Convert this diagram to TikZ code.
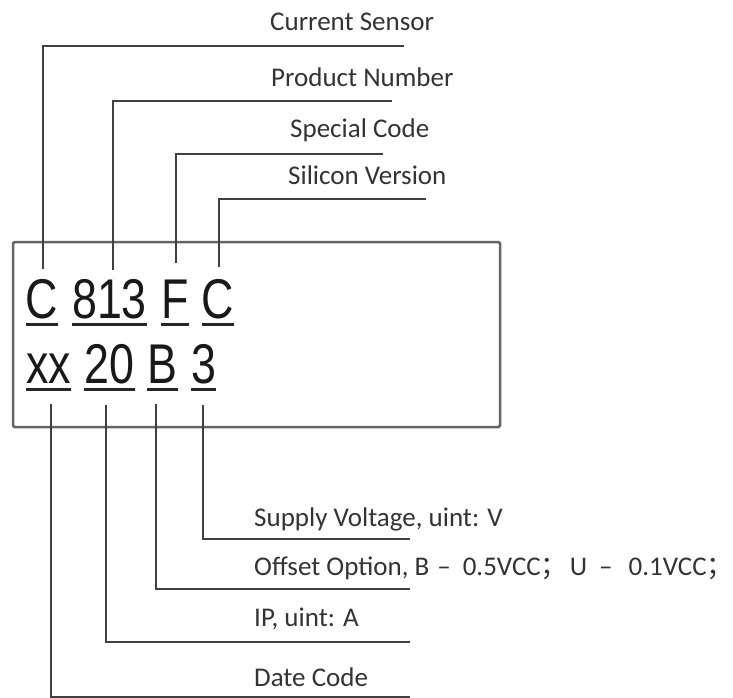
\documentclass[tikz,border=0pt]{standalone}
\usepackage{fontspec}
\setmainfont{Carlito}
\newfontfamily\codefont[FakeStretch=0.8]{Liberation Sans}
\newfontfamily\cjkfont{Noto Sans CJK SC}
\usetikzlibrary{calc}

\tikzset{
  code/.style={anchor=base, inner sep=0pt, text=black!90, font=\codefont\fontsize{56}{60}\selectfont},
  lbl/.style={anchor=base west, inner sep=0pt, text=black!80, font=\fontsize{27}{30}\selectfont},
  lead/.style={draw=black!75, line width=2pt},
  uline/.style={draw=black!85, line width=3.5pt},
  chip/.style={draw=black!60, line width=2.5pt, rounded corners=1.5pt}
}

\begin{document}
\begin{tikzpicture}[x=1pt,y=1pt,yscale=-1]
\useasboundingbox (0,0) rectangle (733,698);

%Shape: Rectangle
\draw[chip] (13,242) rectangle (500,427);

% Text Node
\node[code] (cur) at (42,318) {C};
\node[code] (pnum) at (109.5,318) {813};
\node[code] (spc) at (175,318) {F};
\node[code] (sil) at (218,318) {C};
\node[code] (date) at (48.5,383) {xx};
\node[code] (ipv) at (109.5,383) {20};
\node[code] (ofs) at (162.5,383) {B};
\node[code] (sup) at (203.5,383) {3};

%Straight Lines
\foreach \n in {cur,pnum,spc,sil,date,ipv,ofs,sup}
  \draw[uline] ($(\n.base west)+(0,6.5)$) -- ($(\n.base east)+(0,6.5)$);

% Text Node
\node[lbl] (lcur) at (270,31) {Current Sensor};
\node[lbl] (lpnum) at (271,87) {Product Number};
\node[lbl] (lspc) at (290,137) {Special Code};
\node[lbl] (lsil) at (288,184) {Silicon Version};
\node[lbl] (lsup) at (254,526) {Supply Voltage, uint: V};
\node[lbl] (lofs) at (254,575) {Offset Option, B\hspace{8pt}–\hspace{12pt}0.5VCC{\cjkfont ；}\hspace{2pt}U\hspace{12pt}–\hspace{16pt}0.1VCC{\cjkfont ；}};
\node[lbl] (lipv) at (254,626) {IP, uint: A};
\node[lbl] (ldate) at (254,686) {Date Code};

% line ends
\coordinate (ecur) at (404,46);
\coordinate (epnum) at (392,101);
\coordinate (espc) at (383,154);
\coordinate (esil) at (426,199);
\coordinate (esup) at (410,539);
\coordinate (eofs) at (410,589);
\coordinate (eipv) at (410,642);
\coordinate (edate) at (410,697);

%Straight Lines
\draw[lead] ($(cur.north)+(1,-10)$) |- (ecur);
\draw[lead] ($(pnum.north)+(3.5,-9)$) |- (epnum);
\draw[lead] ($(spc.north)+(1,-16)$) |- (espc);
\draw[lead] ($(sil.north)+(1,-12)$) |- (esil);
\draw[lead] ($(sup.south)+(-0.5,21)$) |- (esup);
\draw[lead] ($(ofs.south)+(-6.5,21)$) |- (eofs);
\draw[lead] ($(ipv.south)+(-3.5,21)$) |- (eipv);
\draw[lead] ($(date.south)+(2.5,21)$) |- (edate);

\end{tikzpicture}
\end{document}
